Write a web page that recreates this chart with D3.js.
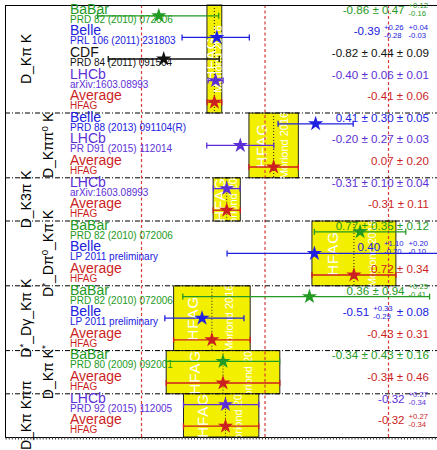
<!DOCTYPE html>
<html><head><meta charset="utf-8">
<script src="https://cdn.jsdelivr.net/npm/d3@7/dist/d3.min.js"></script>
<style>
body{margin:0;background:#fff}
svg{display:block;font-family:"Liberation Sans",Arial,Helvetica,sans-serif}
</style>
</head><body>
<svg id="c" width="437" height="450"></svg>
<script>
// ---- data ----
const sectionLabels = ["D_Kπ K", "D_Kππ^{0} K", "D_K3π K", "D^{*}_Dπ^{0}_Kπ K", "D^{*}_Dγ_Kπ K", "D_Kπ K^{*}", "D_Kπ Kππ"];
const sectionSizes = [5, 3, 2, 3, 3, 2, 2];
const experiments = ["BaBar","Belle","CDF","LHCb","Average",
  "Belle","LHCb","Average",
  "LHCb","Average",
  "BaBar","Belle","Average",
  "BaBar","Belle","Average",
  "BaBar","Average",
  "LHCb","Average"];
const references = ["PRD 82 (2010) 072006","PRL 106 (2011) 231803","PRD 84 (2011) 091504","arXiv:1603.08993","HFAG",
  "PRD 88 (2013) 091104(R)","PR D91 (2015) 112014","HFAG",
  "arXiv:1603.08993","HFAG",
  "PRD 82 (2010) 072006","LP 2011 preliminary","HFAG",
  "PRD 82 (2010) 072006","LP 2011 preliminary","HFAG",
  "PRD 80 (2009) 092001","HFAG",
  "PRD 92 (2015) 112005","HFAG"];
const values = [-0.86,-0.39,-0.82,-0.40,-0.41, 0.41,-0.20,0.07, -0.31,-0.31, 0.77,0.40,0.72, 0.36,-0.51,-0.43, -0.34,-0.34, -0.32,-0.32];
const statUp = [0.47,0.26,0.44,0.06,0.06, 0.30,0.27,0.20, 0.10,0.11, 0.35,1.10,0.34, 0.94,0.33,0.31, 0.43,0.46, 0.27,0.27];
const statDn = [0.47,0.28,0.44,0.06,0.06, 0.30,0.27,0.20, 0.10,0.11, 0.35,0.70,0.34, 0.94,0.29,0.31, 0.43,0.46, 0.34,0.34];
const systUp = [0.12,0.04,0.09,0.01,null, 0.05,0.03,null, 0.04,null, 0.12,0.20,null, 0.25,0.08,null, 0.16,null, null,null];
const systDn = [0.16,0.03,0.09,0.01,null, 0.05,0.03,null, 0.04,null, 0.12,0.10,null, 0.41,0.08,null, 0.16,null, null,null];
const referenceLines = [-1, 0, 1];
const bandTexts = ["HFAG", "Moriond 2016"];

const colors = {BaBar:"#239a23", Belle:"#2020e0", CDF:"#111111", LHCb:"#5c2fd6", Average:"#cc1f1f"};

// ---- layout ----
const svg = d3.select("#c");
const L = 5, T = 5, B = 437, R = 437;
const x = d3.scaleLinear().domain([-1, 1]).range([141.5, 388.5]);
const y = d3.scaleLinear().domain([0, experiments.length]).range([T, B]);

let acc = 0;
const sections = sectionLabels.map((lab, i) => {
  const s = {label: lab, start: acc, n: sectionSizes[i], idx: i};
  acc += sectionSizes[i];
  return s;
});

const defs = svg.append("defs");
const gBand = svg.append("g");
const gLines = svg.append("g");
const gMarks = svg.append("g");
const gText = svg.append("g");

// yellow bands of the averages
sections.forEach(s => {
  const a = s.start + s.n - 1;
  const x0 = x(values[a] - statDn[a]), x1 = x(values[a] + statUp[a]);
  const y0 = y(s.start), y1 = y(s.start + s.n);
  const id = "clip" + s.idx;
  defs.append("clipPath").attr("id", id).append("rect")
    .attr("x", x0).attr("y", y0).attr("width", x1 - x0).attr("height", y1 - y0);
  gBand.append("rect").attr("x", x0).attr("y", y0).attr("width", x1 - x0).attr("height", y1 - y0)
    .attr("fill", "#f3ef00").attr("stroke", "#222").attr("stroke-width", 1);
  const cg = gBand.append("g").attr("clip-path", `url(#${id})`);
  const cy = (y0 + y1) / 2;
  cg.append("text").attr("transform", `translate(${x0 + 0.25 * (x1 - x0)},${cy}) rotate(-90)`)
    .attr("text-anchor", "middle").attr("dy", "0.36em").attr("fill", "#fff")
    .attr("font-size", 15).attr("letter-spacing", 1).text(bandTexts[0]);
  cg.append("text").attr("transform", `translate(${x0 + 0.72 * (x1 - x0)},${cy}) rotate(-90)`)
    .attr("text-anchor", "middle").attr("dy", "0.36em").attr("fill", "#fff")
    .attr("font-size", 11).text(bandTexts[1]);
  gBand.append("line").attr("x1", x(values[a])).attr("x2", x(values[a])).attr("y1", y0).attr("y2", y1)
    .attr("stroke", "#222").attr("stroke-width", 1).attr("stroke-dasharray", "1,2");
});

// red dashed reference lines
gLines.selectAll("line.ref").data(referenceLines).join("line").attr("class", "ref")
  .attr("x1", d => x(d)).attr("x2", d => x(d)).attr("y1", T).attr("y2", B)
  .attr("stroke", "#d83a3a").attr("stroke-width", 1.2).attr("stroke-dasharray", "3,2.5");

// section separators (dash-dot)
gLines.selectAll("line.sep").data(sections.slice(1)).join("line").attr("class", "sep")
  .attr("x1", L).attr("x2", R).attr("y1", d => y(d.start)).attr("y2", d => y(d.start))
  .attr("stroke", "#000").attr("stroke-width", 1).attr("stroke-dasharray", "5,2,1,2");

// frame
gLines.append("line").attr("x1", L).attr("x2", R).attr("y1", T + 0.5).attr("y2", T + 0.5).attr("stroke", "#000");
gLines.append("line").attr("x1", L + 0.5).attr("x2", L + 0.5).attr("y1", T).attr("y2", B).attr("stroke", "#000");
const axis = d3.axisBottom(x).tickValues(d3.range(-2.2, 1.5, 0.025)).tickSize(2.5).tickFormat("");
const ga = gLines.append("g").attr("transform", `translate(0,${B})`).call(axis);
ga.select(".domain").attr("stroke", "#000").attr("d", `M${L},0.5H${R}`);
ga.selectAll(".tick").filter(function(){ const t = this.getAttribute("transform"); const m = /translate\(([-\d.]+)/.exec(t); return m && (+m[1] < L || +m[1] > R); }).remove();
ga.selectAll(".tick line").attr("stroke", "#333");

// error bars + stars
const rows = values.map((v, i) => {
  const tu = Math.sqrt(statUp[i] ** 2 + (systUp[i] || 0) ** 2);
  const td = Math.sqrt(statDn[i] ** 2 + (systDn[i] || 0) ** 2);
  return {i, v, lo: v - td, hi: v + tu, c: colors[experiments[i]], yc: y(i + 0.5)};
});
rows.forEach(r => {
  const g = gMarks.append("g").attr("stroke", r.c).attr("stroke-width", 1.3);
  g.append("line").attr("x1", x(r.lo)).attr("x2", x(r.hi)).attr("y1", r.yc).attr("y2", r.yc);
  [r.lo, r.hi].forEach(e => g.append("line").attr("x1", x(e)).attr("x2", x(e)).attr("y1", r.yc - 3).attr("y2", r.yc + 3));
});
gMarks.selectAll("path.star").data(rows).join("path").attr("class", "star")
  .attr("d", d3.symbol(d3.symbolStar, 72))
  .attr("transform", d => `translate(${x(d.v)},${d.yc})`)
  .attr("fill", d => d.c);

// experiment names and references
rows.forEach(r => {
  gText.append("text").attr("x", 70).attr("y", r.yc - 2).attr("font-size", 14).attr("fill", r.c).text(experiments[r.i]);
  gText.append("text").attr("x", 70).attr("y", r.yc + 7).attr("font-size", 10).attr("fill", r.c).text(references[r.i]);
});

// value texts
const fmt = v => v.toFixed(2);
rows.forEach(r => {
  const i = r.i;
  const tokens = [{t: fmt(values[i])}];
  const addErr = (u, d) => {
    if (u === null) return;
    if (u === d) tokens.push({t: " ± " + fmt(u)});
    else tokens.push({up: "+" + fmt(u), dn: "-" + fmt(d)});
  };
  addErr(statUp[i], statDn[i]);
  addErr(systUp[i], systDn[i]);
  const g = gText.append("g").attr("fill", r.c);
  let cx = 0;
  tokens.forEach(tk => {
    if (tk.t !== undefined) {
      const t = g.append("text").attr("x", cx).attr("y", r.yc - 2).attr("font-size", 11.6).attr("xml:space", "preserve").text(tk.t);
      cx += t.node().getComputedTextLength();
    } else {
      cx += 4;
      const a = g.append("text").attr("x", cx).attr("y", r.yc - 7.5).attr("font-size", 7.7).text(tk.up);
      const b = g.append("text").attr("x", cx).attr("y", r.yc + 0.3).attr("font-size", 7.7).text(tk.dn);
      cx += Math.max(a.node().getComputedTextLength(), b.node().getComputedTextLength()) + 1;
    }
  });
  g.attr("transform", `translate(${429 - cx},0)`);
});

// section labels (rotated), alternating columns
function rich(textSel, str) {
  const parts = str.split(/(\^\{[^}]*\})/).filter(p => p.length);
  let shifted = false;
  parts.forEach(p => {
    const m = /^\^\{([^}]*)\}$/.exec(p);
    if (m) {
      textSel.append("tspan").attr("font-size", "0.7em").attr("dy", "-0.55em").text(m[1]);
      shifted = true;
    } else {
      const ts = textSel.append("tspan").text(p);
      if (shifted) { ts.attr("dy", "0.385em"); shifted = false; }
    }
  });
}
sections.forEach(s => {
  const cy = (y(s.start) + y(s.start + s.n)) / 2;
  const bx = s.idx % 2 === 0 ? 31 : 53;
  const t = gText.append("text").attr("transform", `translate(${bx},${cy}) rotate(-90)`)
    .attr("text-anchor", "middle").attr("font-size", 14).attr("fill", "#000").attr("xml:space", "preserve");
  rich(t, s.label);
});
</script>
</body></html>
